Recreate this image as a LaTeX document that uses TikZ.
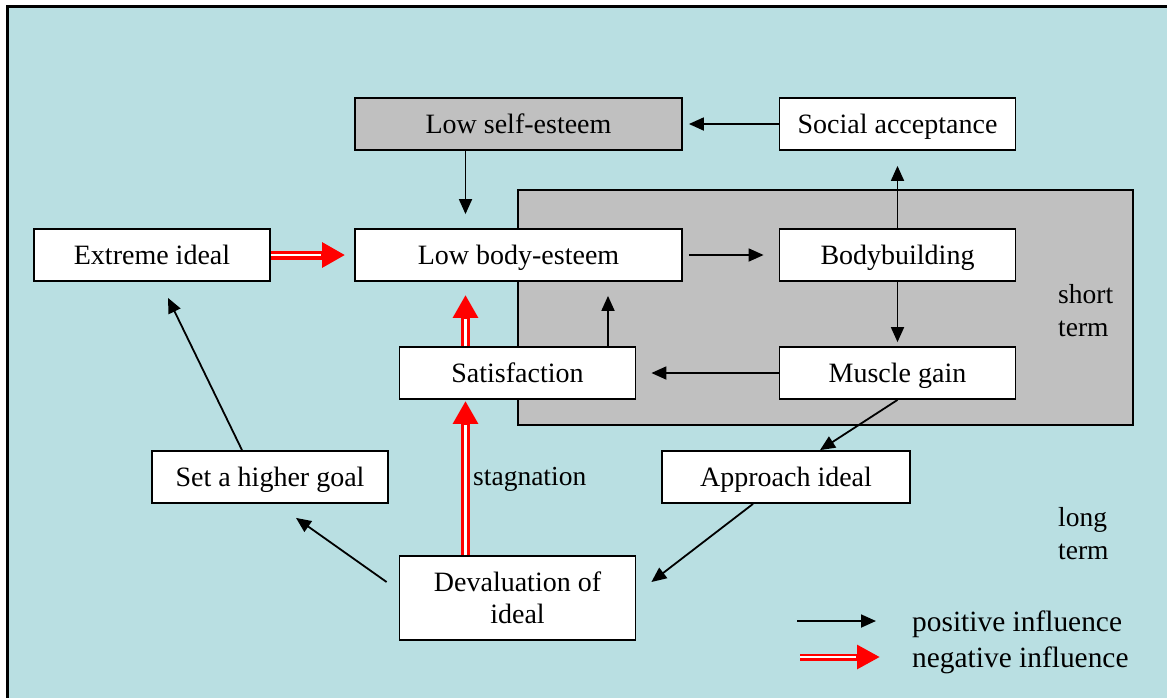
\documentclass[tikz,border=0pt]{standalone}
\usepackage{fontspec}
\setmainfont{Liberation Serif}
\usetikzlibrary{arrows.meta,calc}
\definecolor{bg}{RGB}{185,223,226}
\definecolor{gr}{RGB}{192,192,192}
\begin{document}
\begin{tikzpicture}[x=1pt,y=-1pt,
  boxbase/.style={draw, line width=1.8pt, fill=white, minimum width=236pt, minimum height=52pt, inner sep=0pt, font=\fontsize{28}{32}\selectfont},
  box/.style={boxbase, text height=19pt, text depth=0pt},
  posarrow/.style={line width=1.8pt, -{Triangle[length=15pt,width=13pt]}},
  negarrow/.style={draw=red, line width=9pt, -{Triangle[length=23pt,width=24pt]}, shorten >=#1,
    postaction={draw=white, line width=2.6pt, -, shorten >=#1+24pt}},
  negarrow/.default=0pt,
  negleg/.style={draw=red, line width=7pt, -{Triangle[length=23pt,width=23pt]},
    postaction={draw=white, line width=2pt, -, shorten >=24pt}},
  lbl/.style={inner sep=0pt, font=\fontsize{27.5}{33}\selectfont},
  leg/.style={inner sep=0pt, font=\fontsize{29.4}{33}\selectfont, text height=20pt, text depth=0pt}
]
\useasboundingbox (0,0) rectangle (1167,697);
\clip (0,0) rectangle (1167,697);
\fill[white] (0,0) rectangle (1167,697);
\draw[line width=3pt, fill=bg] (7.5,6.5) rectangle (1200,730);
\draw[line width=1.8pt, fill=gr] (518,190) rectangle (1133,425);

\node[box, fill=gr, minimum width=327pt] (lse) at (518.5,124) {Low self-esteem};
\node[box] (soc) at (897.5,124) {Social acceptance};
\node[box] (ext) at (152,255) {Extreme ideal};
\node[box, minimum width=327pt] (lbe) at (518.5,255) {Low body-esteem};
\node[box] (bb) at (897.5,255) {Bodybuilding};
\node[box] (sat) at (517.5,373) {Satisfaction};
\node[box] (mg) at (897.5,373) {Muscle gain};
\node[box] (shg) at (270,477) {Set a higher goal};
\node[box, minimum width=248pt] (app) at (786,477) {Approach ideal};
\node[boxbase, minimum height=84pt, align=center] (dev) at (517.5,598) {Devaluation of\\ideal};

\draw[posarrow, shorten >=6pt] (soc.west) -- (lse.east);
\draw[posarrow, shorten >=14pt] ([xshift=-53pt]lse.south) -- ([xshift=-53pt]lbe.north);
\draw[negarrow=9pt] (ext.east) -- (lbe.west);
\draw[posarrow, shorten >=15pt, shorten <=6pt] (lbe.east) -- (bb.west);
\draw[posarrow, shorten >=15pt] (bb.north) -- (soc.south);
\draw[posarrow, shorten >=4pt] (bb.south) -- (mg.north);
\draw[posarrow, shorten >=15pt] (mg.west) -- (sat.east);
\draw[posarrow, shorten >=14pt] ([xshift=90.5pt]sat.north) -- ([xshift=90.5pt]sat.north |- lbe.south);
\draw[negarrow=13pt] ([xshift=-52pt]sat.north) -- ([xshift=-52pt]sat.north |- lbe.south);
\draw[negarrow=1pt] ([xshift=-52pt]dev.north) -- ([xshift=-52pt]dev.north |- sat.south);
\draw[posarrow] (mg.south) -- ([xshift=34pt]app.north);
\draw[posarrow] ([xshift=-33pt]app.south) -- ([shift={(15pt,16pt)}]dev.east);
\draw[posarrow] ([shift={(-12pt,16pt)}]dev.west) -- ([shift={(26pt,-14pt)}]shg.south);
\draw[posarrow] ([xshift=-28pt]shg.north) -- ([shift={(16pt,-16pt)}]ext.south);

\node[lbl, anchor=west] (stag) at (473,479) {stagnation};
\node[lbl, anchor=west, align=left] (st) at (1058,311) {short\\term};
\node[lbl, anchor=west, align=left] (lt) at (1058,534) {long\\term};

\coordinate (p1) at (797,621);
\coordinate (p2) at (876,621);
\draw[posarrow] (p1) -- (p2);
\coordinate (n1) at (800,657);
\coordinate (n2) at (880,657);
\draw[negleg] (n1) -- (n2);
\node[leg, anchor=west] (lp) at (912,621) {positive influence};
\node[leg, anchor=west] (ln) at (912,657) {negative influence};
\end{tikzpicture}
\end{document}
